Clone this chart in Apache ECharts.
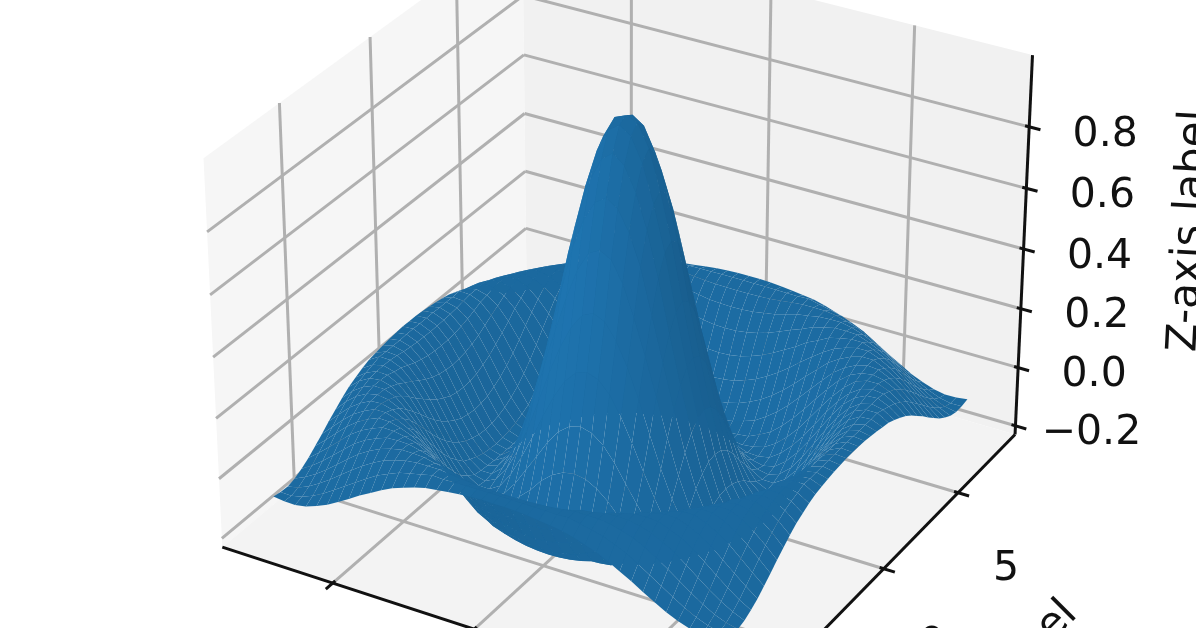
<!DOCTYPE html>
<html><head><meta charset="utf-8">
<style>html,body{margin:0;padding:0;background:#fff}#c{width:1196px;height:628px;filter:blur(0.7px)}</style>
<script src="https://cdn.jsdelivr.net/npm/echarts@6/dist/echarts.min.js"></script>
</head><body><div id="c"></div>
<script>
// Surface heights read for one quadrant (21 x 21 samples out to the surface edge); the surface is mirrored about both axes.
var surfaceQuadrant = [
[1.000,.985,.915,.790,.640,.455,.281,.120,-.018,-.123,-.189,-.216,-.208,-.170,-.113,-.047,.018,.073,.110,.127,.124],
[.985,.960,.885,.765,.620,.438,.268,.110,-.024,-.127,-.190,-.216,-.206,-.168,-.110,-.045,.020,.074,.111,.127,.124],
[.915,.885,.810,.700,.555,.387,.229,.081,-.044,-.138,-.194,-.215,-.202,-.161,-.104,-.039,.025,.077,.112,.127,.122],
[.790,.765,.700,.600,.455,.311,.167,.034,-.075,-.155,-.201,-.213,-.194,-.151,-.092,-.027,.033,.083,.114,.126,.119],
[.640,.620,.555,.455,.340,.217,.091,-.024,-.117,-.179,-.210,-.210,-.183,-.136,-.076,-.013,.045,.090,.117,.126,.115],
[.455,.438,.387,.311,.217,.110,.008,-.081,-.151,-.197,-.215,-.205,-.170,-.117,-.056,.006,.060,.100,.122,.125,.110],
[.281,.268,.229,.167,.091,.008,-.069,-.138,-.189,-.211,-.211,-.188,-.146,-.092,-.032,.027,.076,.111,.126,.127,.105],
[.120,.110,.081,.034,-.024,-.081,-.138,-.182,-.206,-.213,-.200,-.168,-.119,-.063,-.005,.048,.090,.116,.126,.118,.095],
[-.018,-.024,-.044,-.075,-.117,-.151,-.189,-.206,-.214,-.206,-.177,-.136,-.085,-.030,.025,.073,.106,.124,.126,.110,.083],
[-.123,-.127,-.138,-.155,-.179,-.197,-.211,-.213,-.206,-.180,-.144,-.099,-.047,.006,.053,.091,.116,.126,.121,.101,.070],
[-.189,-.190,-.194,-.201,-.210,-.215,-.211,-.200,-.177,-.144,-.104,-.056,-.007,.040,.080,.111,.125,.126,.111,.086,.052],
[-.216,-.216,-.215,-.213,-.210,-.205,-.188,-.168,-.136,-.099,-.056,-.011,.033,.074,.103,.120,.126,.118,.099,.069,.031],
[-.208,-.206,-.202,-.194,-.183,-.170,-.146,-.119,-.085,-.047,-.007,.033,.071,.098,.117,.127,.124,.106,.080,.047,.011],
[-.170,-.168,-.161,-.151,-.136,-.117,-.092,-.063,-.030,.006,.040,.074,.098,.116,.127,.127,.110,.088,.058,.023,-.012],
[-.113,-.110,-.104,-.092,-.076,-.056,-.032,-.005,.025,.053,.080,.103,.117,.127,.128,.113,.093,.066,.033,-.001,-.033],
[-.047,-.045,-.039,-.027,-.013,.006,.027,.048,.073,.091,.111,.120,.127,.127,.113,.095,.070,.038,.006,-.025,-.054],
[.018,.020,.025,.033,.045,.060,.076,.090,.106,.116,.125,.126,.124,.110,.093,.070,.040,.009,-.021,-.048,-.070],
[.073,.074,.077,.083,.090,.100,.111,.116,.124,.126,.126,.118,.106,.088,.066,.038,.009,-.020,-.045,-.067,-.083],
[.110,.111,.112,.114,.117,.122,.126,.126,.126,.121,.111,.099,.080,.058,.033,.006,-.021,-.045,-.067,-.082,-.090],
[.127,.127,.127,.126,.126,.125,.127,.118,.110,.101,.086,.069,.047,.023,-.001,-.025,-.048,-.067,-.082,-.090,-.089],
[.124,.124,.122,.119,.115,.110,.105,.095,.083,.070,.052,.031,.011,-.012,-.033,-.054,-.070,-.083,-.090,-.089,-.084]
];
var quadrantStep = 0.392;
var xTicks = [-5, 0, 5];
var yTicks = [-5, 0, 5];
var zTicks = [-0.2, 0, 0.2, 0.4, 0.6, 0.8];
var zTickLabels = ['\u22120.2', '0.0', '0.2', '0.4', '0.6', '0.8'];
var yTickLabels = ['\u22125', '0', '5'];
var zAxisTitle = 'Z-axis label';
var yAxisTitle = 'Y-axis label';
var xyLimit = 9, zMin = -0.23, zMax = 1.03;

// --- projection (camera elev 30, azim -60, distance 10) onto the hidden pixel-scale cartesian axes
var box = [1.19, 1.19, 0.893];
var scaleX = 4984, scaleY = 4965, originX = 626, originY = 302;
function view(p) {
  var X = p[0] / xyLimit * box[0] / 2, Y = p[1] / xyLimit * box[1] / 2;
  var Z = ((p[2] - zMin) / (zMax - zMin) - 0.5) * box[2];
  var px = 0.866 * X + 0.5 * Y, py = -0.25 * X + 0.433 * Y + 0.866 * Z;
  var d = 10 - (0.433 * X - 0.75 * Y + 0.5 * Z);
  return { x: originX + scaleX * px / d, y: originY - scaleY * py / d, d: d };
}
function xy(p) { var v = view(p); return [v.x, v.y]; }

// --- surface cells
var n = surfaceQuadrant.length - 1, cells = [];
function vertex(i, j) {
  return [i * quadrantStep, j * quadrantStep, surfaceQuadrant[Math.abs(j)][Math.abs(i)]];
}
var light = [-0.667, -0.667, 0.333];
var baseColor = [31, 119, 180];
for (var j = -n; j < n; j++) for (var i = -n; i < n; i++) {
  var a = vertex(i, j), b = vertex(i + 1, j), c = vertex(i + 1, j + 1), e = vertex(i, j + 1);
  var u = [c[0] - a[0], c[1] - a[1], c[2] - a[2]], w = [e[0] - b[0], e[1] - b[1], e[2] - b[2]];
  var nx = u[1] * w[2] - u[2] * w[1], ny = u[2] * w[0] - u[0] * w[2], nz = u[0] * w[1] - u[1] * w[0];
  var len = Math.sqrt(nx * nx + ny * ny + nz * nz);
  var dot = (nx * light[0] + ny * light[1] + nz * light[2]) / len;
  var f = 0.80 + 0.25 * dot;
  var col = 'rgb(' + baseColor.map(function (v) { return Math.min(255, Math.round(v * f)); }).join(',') + ')';
  var pts = [a, b, c, e];
  var depth = (view(a).d + view(b).d + view(c).d + view(e).d) / 4;
  cells.push({ pts: pts, col: col, depth: depth });
}
cells.sort(function (p, q) { return q.depth - p.depth; });

// --- panes, grid, axes
var L = xyLimit;
var panes = [
  { pts: [[-L,-L,zMin],[-L,L,zMin],[-L,L,zMax],[-L,-L,zMax]], col: '#f6f6f6' },
  { pts: [[-L,L,zMin],[L,L,zMin],[L,L,zMax],[-L,L,zMax]], col: '#f1f1f1' },
  { pts: [[-L,-L,zMin],[L,-L,zMin],[L,L,zMin],[-L,L,zMin]], col: '#f3f3f3' }
];
var gridSegs = [];
xTicks.forEach(function (t) {
  gridSegs.push([[t,-L,zMin],[t,L,zMin]], [[t,L,zMin],[t,L,zMax]]);
});
yTicks.forEach(function (t) {
  gridSegs.push([[-L,t,zMin],[L,t,zMin]], [[-L,t,zMin],[-L,t,zMax]]);
});
zTicks.forEach(function (t) {
  gridSegs.push([[-L,-L,t],[-L,L,t]], [[-L,L,t],[L,L,t]]);
});
var axisSegs = [
  [[-L,-L,zMin],[L,-L,zMin]], [[L,-L,zMin],[L,L,zMin]], [[L,L,zMin],[L,L,zMax]]
];
xTicks.forEach(function (t) { axisSegs.push([[t,-L-0.38,zMin],[t,-L+0.14,zMin]]); });
yTicks.forEach(function (t) { axisSegs.push([[L-0.14,t,zMin],[L+0.38,t,zMin]]); });
zTicks.forEach(function (t) { axisSegs.push([[L-0.14,L,t],[L+0.38,L,t]]); });

// --- texts
var FONT = '"DejaVu Sans"';
var texts = [];
zTicks.forEach(function (t, k) {
  texts.push({ text: zTickLabels[k], at: [L, L, t], dx: 76, dy: 8, size: 41, rot: 0 });
});
yTicks.forEach(function (t, k) {
  texts.push({ text: yTickLabels[k], at: [L, t, zMin], dx: 48, dy: 77, size: 41, rot: 0 });
});
texts.push({ text: zAxisTitle, at: [L, L, 0.4], dx: 167, dy: -18, size: 42, rot: 87 });
texts.push({ text: yAxisTitle, at: [L, 0, zMin], dx: 104, dy: 122, size: 42, rot: 45 });

function polySeries(list) {
  return {
    type: 'custom', coordinateSystem: 'cartesian2d', silent: true, animation: false, clip: false,
    progressive: 0, data: list.map(function (_, k) { return [k]; }),
    renderItem: function (params, api) {
      var it = list[params.dataIndex];
      return {
        type: 'polygon', silent: true,
        shape: { points: it.pts.map(function (p) { return api.coord(xy(p)); }) },
        style: { fill: it.col, stroke: null, lineWidth: 0 }
      };
    }
  };
}
function segSeries(list, color, width) {
  return {
    type: 'custom', coordinateSystem: 'cartesian2d', silent: true, animation: false, clip: false,
    progressive: 0, data: list.map(function (_, k) { return [k]; }),
    renderItem: function (params, api) {
      var s = list[params.dataIndex], p = api.coord(xy(s[0])), q = api.coord(xy(s[1]));
      return {
        type: 'line', silent: true,
        shape: { x1: p[0], y1: p[1], x2: q[0], y2: q[1] },
        style: { stroke: color, lineWidth: width, lineCap: 'butt' }
      };
    }
  };
}
var textSeries = {
  type: 'custom', coordinateSystem: 'cartesian2d', silent: true, animation: false, clip: false,
  progressive: 0, data: texts.map(function (_, k) { return [k]; }),
  renderItem: function (params, api) {
    var t = texts[params.dataIndex], p = api.coord(xy(t.at));
    return {
      type: 'text', silent: true, x: p[0] + t.dx, y: p[1] + t.dy, rotation: t.rot * Math.PI / 180,
      style: { text: t.text, fontFamily: FONT, fontSize: t.size, fill: '#111', align: 'center', verticalAlign: 'middle' }
    };
  }
};

var chart = echarts.init(document.getElementById('c'), null, { renderer: 'canvas' });
chart.setOption({
  backgroundColor: '#fff', animation: false,
  grid: { left: 0, right: 0, top: 0, bottom: 0 },
  xAxis: { type: 'value', min: 0, max: 1196, show: false },
  yAxis: { type: 'value', min: 0, max: 628, inverse: true, show: false },
  series: [polySeries(panes), segSeries(gridSegs, '#b0b0b0', 3), polySeries(cells), segSeries(axisSegs, '#111', 3), textSeries]
});
</script></body></html>
